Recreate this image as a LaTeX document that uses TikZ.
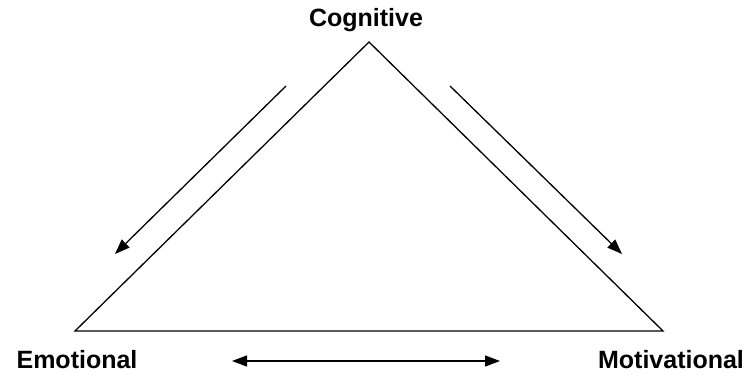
\documentclass[tikz,border=0pt]{standalone}
\usepackage{fontspec}
\setmainfont{Liberation Sans}
\usepackage{tikz}
\usetikzlibrary{arrows.meta,calc,positioning}

\tikzset{
	corner/.style = {font=\bfseries\fontsize{25}{30}\selectfont, inner sep=0pt, anchor=base},
	flow/.style = {line width=1.3pt, -{Triangle[length=15pt,width=11pt]}},
}

\begin{document}
\begin{tikzpicture}[x=1pt,y=-1pt]
		\useasboundingbox (0,0) rectangle (747,374);
		% triangle
		\coordinate (top) at (369,42);
		\coordinate (left) at (75,331);
		\coordinate (right) at (663,331);
		\draw[line width=1.3pt] (top) -- (left) -- (right) -- cycle;
		
		\node[corner] (cog) at (366,27) {Cognitive};
		\node[corner] (emo) at (77,368) {Emotional};
		\node[corner] (mot) at (671,368) {Motivational};
		
		% arrows
		\coordinate (cl1) at (286,86);
		\coordinate (cl2) at (115,254);
		\coordinate (cr1) at (450,86);
		\coordinate (cr2) at (622,254);
		\coordinate (bl) at (232,361);
		\coordinate (br) at (500,361);
		\draw[flow] (cl1) -- (cl2);
		\draw[flow] (cr1) -- (cr2);
		\draw[flow, {Triangle[length=15pt,width=11pt]}-{Triangle[length=15pt,width=11pt]}] (bl) -- (br);
\end{tikzpicture}
\end{document}
